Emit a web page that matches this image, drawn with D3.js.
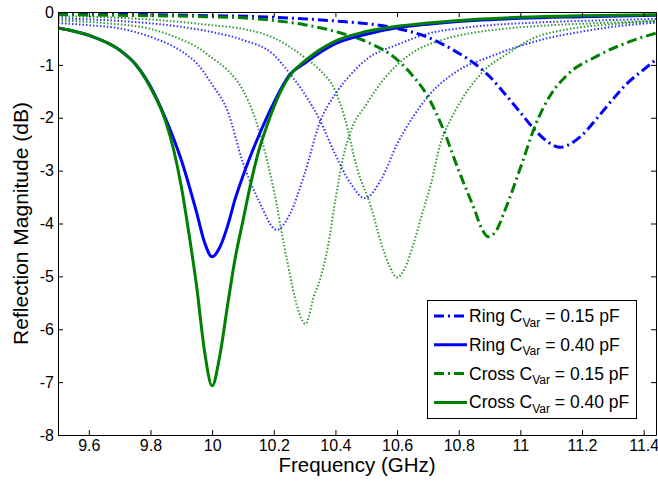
<!DOCTYPE html>
<html><head><meta charset="utf-8">
<script src="https://cdn.jsdelivr.net/npm/d3@7"></script>
<style>
body{margin:0;background:#fff;}
svg{display:block;}
text{font-family:Arial,"Liberation Sans",sans-serif;fill:#000;}
</style>
</head><body><svg id="c" width="658" height="485"></svg>
<script>
// ---------- data ----------
const xTicks = [9.6, 9.8, 10, 10.2, 10.4, 10.6, 10.8, 11, 11.2, 11.4];
const xTickLabels = ["9.6","9.8","10","10.2","10.4","10.6","10.8","11","11.2","11.4"];
const yTicks = [0, -1, -2, -3, -4, -5, -6, -7, -8];
const yTickLabels = ["0","-1","-2","-3","-4","-5","-6","-7","-8"];

// Ring C_Var = 0.40 pF (solid blue)
const ring040F = [9.5, 9.6, 9.7, 9.75, 9.8, 9.85, 9.9, 9.95, 9.975, 10.0, 10.025, 10.05, 10.075, 10.1, 10.15, 10.2, 10.25, 10.3, 10.4, 10.5, 10.6, 10.7, 10.85, 11.0, 11.2, 11.44];
const ring040V = [-0.30, -0.44, -0.72, -0.98, -1.41, -2.03, -2.8, -3.8, -4.35, -4.63, -4.45, -4.05, -3.53, -3.1, -2.36, -1.72, -1.2, -0.97, -0.6, -0.42, -0.30, -0.23, -0.16, -0.12, -0.09, -0.06];

// Cross C_Var = 0.40 pF (solid green)
const cross040F = [9.5, 9.6, 9.7, 9.75, 9.8, 9.85, 9.875, 9.9, 9.925, 9.95, 9.975, 10.0, 10.025, 10.05, 10.075, 10.1, 10.125, 10.15, 10.175, 10.2, 10.25, 10.3, 10.4, 10.5, 10.6, 10.7, 10.85, 11.0, 11.2, 11.44];
const cross040V = [-0.30, -0.44, -0.72, -0.98, -1.43, -2.08, -2.6, -3.3, -4.2, -5.2, -6.4, -7.07, -6.5, -5.55, -4.65, -3.95, -3.25, -2.65, -2.2, -1.8, -1.22, -0.93, -0.55, -0.37, -0.27, -0.21, -0.14, -0.10, -0.07, -0.05];

// Ring C_Var = 0.15 pF (dash-dot blue)
const ring015F = [9.5, 9.8, 10.0, 10.1, 10.2, 10.3, 10.4, 10.5, 10.6, 10.7, 10.8, 10.85, 10.9, 10.95, 11.0, 11.05, 11.1, 11.13, 11.16, 11.2, 11.25, 11.3, 11.35, 11.4, 11.44];
const ring015V = [-0.03, -0.05, -0.07, -0.08, -0.10, -0.13, -0.17, -0.22, -0.31, -0.48, -0.78, -0.97, -1.22, -1.55, -1.9, -2.25, -2.5, -2.56, -2.5, -2.33, -2.0, -1.65, -1.33, -1.09, -0.9];

// Cross C_Var = 0.15 pF (dash-dot green)
const cross015F = [9.5, 9.8, 10.0, 10.1, 10.2, 10.3, 10.4, 10.5, 10.6, 10.65, 10.7, 10.75, 10.8, 10.85, 10.875, 10.895, 10.92, 10.95, 11.0, 11.05, 11.1, 11.15, 11.25, 11.35, 11.44];
const cross015V = [-0.05, -0.07, -0.09, -0.11, -0.16, -0.24, -0.37, -0.56, -0.9, -1.2, -1.6, -2.22, -3.0, -3.72, -4.1, -4.25, -4.15, -3.75, -2.95, -2.12, -1.55, -1.2, -0.83, -0.57, -0.40];

// intermediate Ring capacitances (dotted blue)
const ringAF = [9.5, 9.6, 9.7, 9.8, 9.9, 9.95, 10.0, 10.05, 10.1, 10.15, 10.21, 10.25, 10.3, 10.35, 10.4, 10.45, 10.5, 10.6, 10.7, 10.8, 10.9, 11.05, 11.25, 11.44];
const ringAV = [-0.21, -0.25, -0.31, -0.47, -0.74, -0.97, -1.37, -1.87, -2.85, -3.55, -4.12, -3.85, -3.06, -2.08, -1.55, -1.18, -0.9, -0.62, -0.41, -0.31, -0.25, -0.2, -0.16, -0.13];
const ringBF = [9.5, 9.7, 9.9, 10.0, 10.1, 10.2, 10.25, 10.3, 10.35, 10.4, 10.45, 10.495, 10.55, 10.6, 10.65, 10.7, 10.8, 10.9, 11.0, 11.1, 11.2, 11.3, 11.44];
const ringBV = [-0.12, -0.17, -0.28, -0.38, -0.53, -0.81, -1.15, -1.55, -2.05, -2.7, -3.25, -3.52, -3.15, -2.5, -2.0, -1.6, -1.1, -0.85, -0.64, -0.48, -0.37, -0.28, -0.2];

// intermediate Cross capacitances (dotted green)
const crossAF = [9.5, 9.65, 9.8, 9.9, 9.95, 10.0, 10.05, 10.1, 10.14, 10.18, 10.21, 10.225, 10.245, 10.275, 10.303, 10.33, 10.35, 10.375, 10.4, 10.425, 10.45, 10.5, 10.55, 10.6, 10.65, 10.75, 10.85, 10.96, 11.1, 11.3, 11.44];
const crossAV = [-0.16, -0.21, -0.32, -0.52, -0.66, -0.87, -1.1, -1.48, -2.02, -2.85, -3.66, -4.15, -4.75, -5.55, -5.9, -5.38, -5.06, -4.45, -3.55, -2.75, -2.25, -1.75, -1.32, -1.0, -0.77, -0.52, -0.39, -0.31, -0.25, -0.2, -0.17];
const crossBF = [9.5, 9.7, 9.9, 10.0, 10.1, 10.2, 10.3, 10.35, 10.4, 10.43, 10.47, 10.515, 10.55, 10.575, 10.6, 10.625, 10.655, 10.68, 10.71, 10.74, 10.775, 10.8, 10.88, 10.96, 11.04, 11.15, 11.3, 11.44];
const crossBV = [-0.08, -0.11, -0.19, -0.25, -0.32, -0.49, -0.86, -1.1, -1.5, -2.0, -2.95, -3.68, -4.4, -4.8, -5.02, -4.85, -4.35, -3.85, -3.25, -2.5, -2.02, -1.75, -1.12, -0.78, -0.5, -0.33, -0.23, -0.17];

const legendNames = ["Ring C", "Ring C", "Cross C", "Cross C"];
const legendValues = [" = 0.15 pF", " = 0.40 pF", " = 0.15 pF", " = 0.40 pF"];

// ---------- drawing ----------
const BLUE = "#0000ff", GREEN = "#008000";
const svg = d3.select("#c");
const L = 58, R = 656, T = 12, B = 435;
const x = d3.scaleLinear().domain([9.5, 11.44]).range([L, R]);
const y = d3.scaleLinear().domain([-8, 0]).range([B, T]);

const zip = (f, v) => f.map((d, i) => [d, v[i]]);
const series = [
  {pts: zip(ringAF, ringAV), color: BLUE, w: 2, dash: "1.5,2", op: 0.8},
  {pts: zip(ringBF, ringBV), color: BLUE, w: 2, dash: "1.5,2", op: 0.8},
  {pts: zip(crossAF, crossAV), color: GREEN, w: 2, dash: "1.5,2", op: 0.8},
  {pts: zip(crossBF, crossBV), color: GREEN, w: 2, dash: "1.5,2", op: 0.8},
  {pts: zip(ring015F, ring015V), color: BLUE, w: 3, dash: "10,4,2,4", op: 1},
  {pts: zip(cross015F, cross015V), color: GREEN, w: 3, dash: "10,4,2,4", op: 1},
  {pts: zip(ring040F, ring040V), color: BLUE, w: 3, dash: null, op: 1},
  {pts: zip(cross040F, cross040V), color: GREEN, w: 3, dash: null, op: 1}
];

svg.append("defs").append("clipPath").attr("id", "clip")
  .append("rect").attr("x", L).attr("y", T).attr("width", R - L).attr("height", B - T);

const line = d3.line().x(d => x(d[0])).y(d => y(d[1])).curve(d3.curveMonotoneX);
const plot = svg.append("g").attr("clip-path", "url(#clip)");
series.forEach(s => {
  plot.append("path").datum(s.pts)
    .attr("d", line).attr("fill", "none")
    .attr("stroke", s.color).attr("stroke-width", s.w)
    .attr("stroke-opacity", s.op)
    .attr("stroke-linejoin", "round")
    .attr("stroke-dasharray", s.dash);
});

// axes (MATLAB-style box with inward ticks)
const fmtX = d => xTickLabels[xTicks.indexOf(d)];
const fmtY = d => yTickLabels[yTicks.indexOf(d)];
function styleAxis(g) {
  g.selectAll("path.domain").attr("stroke", "#000");
  g.selectAll(".tick line").attr("stroke", "#000");
  g.selectAll(".tick text").style("font-size", "16px").attr("fill", "#000");
}
svg.append("g").attr("transform", `translate(0,${B})`)
  .call(d3.axisBottom(x).tickValues(xTicks).tickFormat(fmtX).tickSizeInner(-5).tickSizeOuter(0).tickPadding(5))
  .call(styleAxis);
svg.append("g").attr("transform", `translate(0,${T})`)
  .call(d3.axisTop(x).tickValues(xTicks).tickFormat("").tickSizeInner(-5).tickSizeOuter(0))
  .call(styleAxis);
svg.append("g").attr("transform", `translate(${L},0)`)
  .call(d3.axisLeft(y).tickValues(yTicks).tickFormat(fmtY).tickSizeInner(-5).tickSizeOuter(0).tickPadding(4))
  .call(styleAxis);
svg.append("g").attr("transform", `translate(${R},0)`)
  .call(d3.axisRight(y).tickValues(yTicks).tickFormat("").tickSizeInner(-5).tickSizeOuter(0))
  .call(styleAxis);
svg.selectAll("g").attr("font-family", null);

// axis labels
svg.append("text").attr("x", (L + R) / 2).attr("y", 472)
  .attr("text-anchor", "middle").style("font-size", "20.5px").text("Frequency (GHz)");
svg.append("text").attr("transform", `translate(28,${(T + B) / 2}) rotate(-90)`)
  .attr("text-anchor", "middle").style("font-size", "21px").text("Reflection Magnitude (dB)");

// legend
const legendStyles = [series[4], series[6], series[5], series[7]];
const lg = svg.append("g");
lg.append("rect").attr("x", 427.5).attr("y", 300.5).attr("width", 209).attr("height", 118)
  .attr("fill", "#fff").attr("stroke", "#000").attr("stroke-width", 1);
legendNames.forEach((name, i) => {
  const ly = 316 + i * 28.8;
  const s = legendStyles[i];
  lg.append("line").attr("x1", 434).attr("x2", 467).attr("y1", ly).attr("y2", ly)
    .attr("stroke", s.color).attr("stroke-width", s.w).attr("stroke-dasharray", s.dash);
  const t = lg.append("text").attr("x", 469).attr("y", ly + 6).style("font-size", "17.5px");
  t.append("tspan").text(name);
  t.append("tspan").attr("dy", 4.5).style("font-size", "12px").text("Var");
  t.append("tspan").attr("dy", -4.5).text(legendValues[i]);
});
</script></body></html>
